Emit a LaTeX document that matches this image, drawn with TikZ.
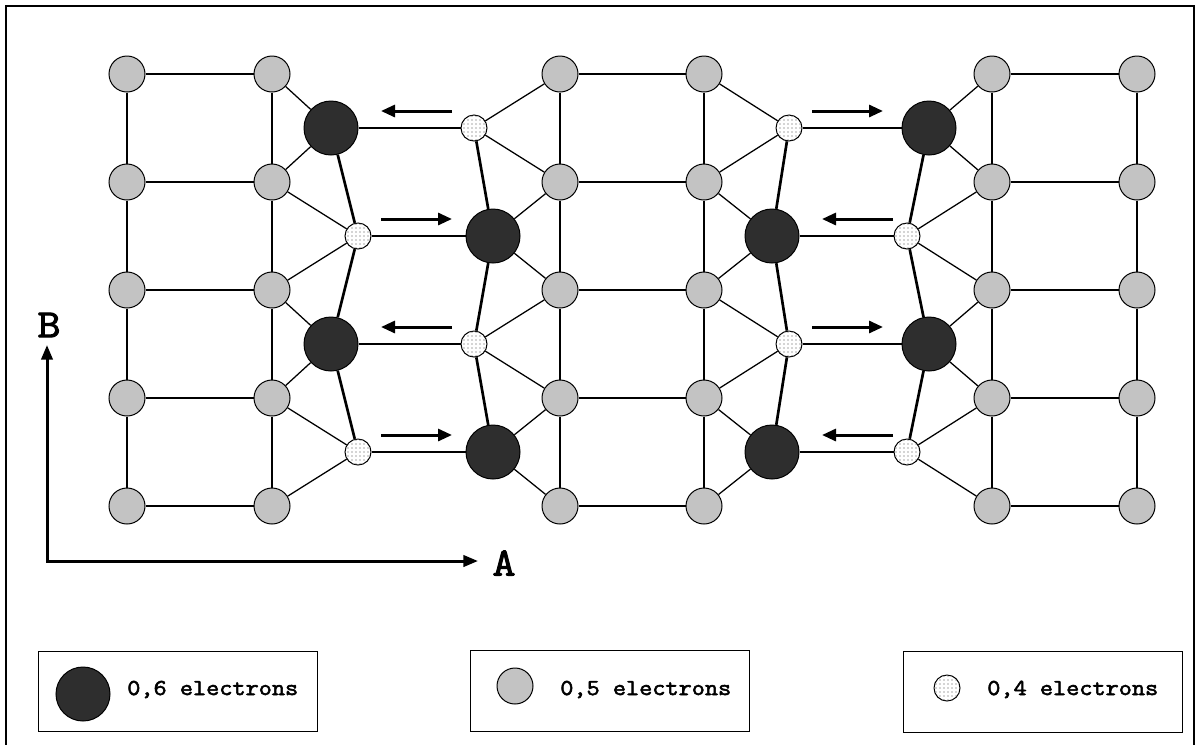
\documentclass[tikz,border=0pt]{standalone}
\usepackage{fontspec}
\newfontfamily\courb{Latin Modern Mono}[FakeBold=2.5,FakeStretch=1.12]
\usetikzlibrary{arrows.meta,patterns}
\begin{document}
\begin{tikzpicture}[x=0.75pt,y=-0.75pt,
 half/.style={circle,draw,line width=0.75pt,minimum size=27pt,inner sep=0pt,fill=gray!47},
 six/.style={circle,draw,line width=0.75pt,minimum size=40.5pt,inner sep=0pt,fill=black!82},
 four/.style={circle,draw,line width=0.75pt,minimum size=19.5pt,inner sep=0pt,fill=white,postaction={pattern=dots,pattern color=black!70}},
 bond/.style={line width=2pt},
 weak/.style={line width=0.95pt},
 flow/.style={line width=2.25pt,-{Triangle[length=10.5pt,width=9pt]}},
 axis/.style={line width=2.25pt,{Triangle[length=11pt,width=8.5pt]}-{Triangle[length=11pt,width=8.5pt]}},
 lab/.style={font=\courb\fontsize{30}{34}\selectfont,inner sep=0pt},
 leg/.style={font=\courb\fontsize{17.1}{21}\selectfont,inner sep=0pt},
 box/.style={line width=0.75pt},
]
\useasboundingbox (0,0) rectangle (1195,744);
\draw[line width=1.1pt] (6,750) -- (6,6) -- (1194,6) -- (1194,750);
% grey atoms
\foreach \c/\x in {1/127,2/272,3/560,4/704,5/992,6/1137}
  \foreach \r/\y in {1/74,2/182,3/290,4/398,5/506}
    \node[half] (g\c\r) at (\x,\y) {};
% left block
\node[six]  (a1) at (331,128) {};
\node[four] (a2) at (358,236) {};
\node[six]  (a3) at (331,344) {};
\node[four] (a4) at (358,452) {};
% middle left
\node[four] (b1) at (474,128) {};
\node[six]  (b2) at (493,236) {};
\node[four] (b3) at (474,344) {};
\node[six]  (b4) at (493,452) {};
% middle right
\node[four] (c1) at (789,128) {};
\node[six]  (c2) at (772,236) {};
\node[four] (c3) at (789,344) {};
\node[six]  (c4) at (772,452) {};
% right block
\node[six]  (d1) at (929,128) {};
\node[four] (d2) at (907,236) {};
\node[six]  (d3) at (929,344) {};
\node[four] (d4) at (907,452) {};
% grid bonds
\foreach \c in {1,...,6}
  \foreach \r/\s in {1/2,2/3,3/4,4/5}
    \draw[bond] (g\c\r) -- (g\c\s);
\foreach \r in {1,...,5} {
  \draw[bond] (g1\r) -- (g2\r);
  \draw[bond] (g3\r) -- (g4\r);
  \draw[bond] (g5\r) -- (g6\r);
}
% chains
\foreach \p in {a,b,c,d}
  \draw[bond] (\p1) -- (\p2) -- (\p3) -- (\p4);
\foreach \k in {1,...,4} {
  \draw[bond] (a\k) -- (b\k);
  \draw[bond] (c\k) -- (d\k);
}
% thin bonds
\foreach \k/\n in {1/2,2/3,3/4,4/5} {
  \draw[weak] (a\k) -- (g2\k); \draw[weak] (a\k) -- (g2\n);
  \draw[weak] (b\k) -- (g3\k); \draw[weak] (b\k) -- (g3\n);
  \draw[weak] (c\k) -- (g4\k); \draw[weak] (c\k) -- (g4\n);
  \draw[weak] (d\k) -- (g5\k); \draw[weak] (d\k) -- (g5\n);
}
% charge flow arrows
\coordinate (l1a) at (452,111); \coordinate (l1b) at (381,111);
\coordinate (l2a) at (381,219); \coordinate (l2b) at (452,219);
\coordinate (l3a) at (452,327); \coordinate (l3b) at (381,327);
\coordinate (l4a) at (381,435); \coordinate (l4b) at (452,435);
\coordinate (r1a) at (812,111); \coordinate (r1b) at (883,111);
\coordinate (r2a) at (893,219); \coordinate (r2b) at (822,219);
\coordinate (r3a) at (812,327); \coordinate (r3b) at (883,327);
\coordinate (r4a) at (893,435); \coordinate (r4b) at (822,435);
\foreach \k in {1,...,4} {
  \draw[flow] (l\k a) -- (l\k b);
  \draw[flow] (r\k a) -- (r\k b);
}
% axes
\coordinate (O) at (47,561);
\coordinate (Btip) at (47,345);
\coordinate (Atip) at (478,561);
\draw[axis] (Btip) -- (O) -- (Atip);
\node[lab] (B) at (49,325) {B};
\node[lab] (A) at (504,563) {A};
% legend
\draw[box] (38,651) rectangle (317,731);
\draw[box] (470,650) rectangle (749,731);
\draw[box] (903,651) rectangle (1182,732);
\node[six]  (k6) at (83,694) {};
\node[half] (k5) at (515,686) {};
\node[four] (k4) at (947,688) {};
\node[leg,anchor=base west] (t6) at (127,695) {0,6 electrons};
\node[leg,anchor=base west] (t5) at (560,695) {0,5 electrons};
\node[leg,anchor=base west] (t4) at (987,695) {0,4 electrons};
\end{tikzpicture}
\end{document}
